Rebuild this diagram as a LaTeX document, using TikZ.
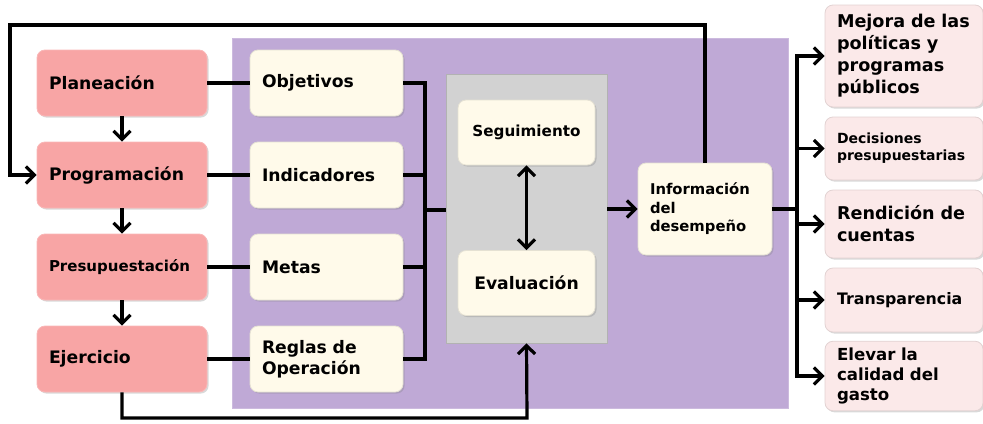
\documentclass[tikz,border=0pt]{standalone}
\usepackage{fontspec}
\setmainfont{DejaVu Sans}
\usetikzlibrary{positioning,shadows,arrows.meta}

\definecolor{rosa}{HTML}{F8A5A5}
\definecolor{rosaclaro}{HTML}{FBE9E9}
\definecolor{crema}{HTML}{FFFAEA}
\definecolor{lila}{HTML}{BFA9D6}
\definecolor{gris}{HTML}{D2D2D2}

\tikzset{
  caja/.style={rectangle, rounded corners=4pt, align=left, inner xsep=6pt,
    font=\fontsize{8.6}{10.5}\selectfont\bfseries,
    drop shadow={opacity=0.3, shadow xshift=0.8pt, shadow yshift=-0.8pt}},
  etapa/.style={caja, fill=rosa, draw=rosa!80!white, minimum width=85pt,
    minimum height=33pt, text width=73pt},
  insumo/.style={caja, fill=crema, draw=crema!90!black, minimum width=76.5pt,
    minimum height=33pt, text width=64.5pt},
  proceso/.style={caja, fill=crema, draw=crema!90!black, minimum width=68.5pt,
    minimum height=32.5pt, align=center},
  uso/.style={caja, fill=rosaclaro, draw=rosaclaro!90!black, minimum width=77pt,
    text width=67pt},
  linea/.style={line width=1.6pt, black},
}

\begin{document}
\begin{tikzpicture}[x=0.5pt, y=-0.5pt, >={Straight Barb[length=4.2pt,width=8.5pt]}]
  \useasboundingbox (0,0) rectangle (983,423);

  % Paneles de fondo
  \node (panel) [rectangle, fill=lila, draw=lila!80!white, minimum width=278pt,
    minimum height=185pt] at (510,223) {};
  \node (bloque) [rectangle, fill=gris, draw=gris!85!black, minimum width=80.5pt,
    minimum height=134.5pt] at (526.5,208.5) {};

  % Etapas
  \node (plan) [etapa] at (122,83) {Planeación};
  \node (prog) [etapa] at (122,175) {Programación};
  \node (pres) [etapa, font=\fontsize{7.5}{9}\selectfont\bfseries] at (122,267) {Presupuestación};
  \node (ejer) [etapa] at (122,359) {Ejercicio};

  % Insumos
  \node (obj) [insumo] at (326.5,83) {Objetivos};
  \node (ind) [insumo] at (326.5,175) {Indicadores};
  \node (met) [insumo] at (326.5,267) {Metas};
  \node (reg) [insumo] at (326.5,359) {Reglas de\\Operación};

  % Seguimiento y evaluacion
  \node (seg) [proceso, font=\fontsize{7.6}{9}\selectfont\bfseries] at (526.5,132.5) {Seguimiento};
  \node (eva) [proceso] at (526.5,283) {Evaluación};

  \node (info) [caja, fill=crema, draw=crema!90!black, minimum width=65pt,
    minimum height=46pt, text width=55pt, font=\fontsize{7.4}{9.2}\selectfont\bfseries]
    at (705,209) {Información\\del\\desempeño};

  % Usos
  \node (r1) [uso, minimum height=51pt, font=\fontsize{8.8}{11}\selectfont\bfseries] at (904,56)
    {Mejora de las\\políticas y\\programas\\públicos};
  \node (r2) [uso, minimum height=31.5pt, font=\fontsize{7}{8.6}\selectfont\bfseries] at (904,148.5)
    {Decisiones\\presupuestarias};
  \node (r3) [uso, minimum height=34pt, font=\fontsize{8.8}{11}\selectfont\bfseries] at (904,224)
    {Rendición de\\cuentas};
  \node (r4) [uso, minimum height=32pt, font=\fontsize{7.9}{10}\selectfont\bfseries] at (904,300)
    {Transparencia};
  \node (r5) [uso, minimum height=34pt, font=\fontsize{8.3}{10}\selectfont\bfseries] at (904,376)
    {Elevar la\\calidad del\\gasto};

  % Puntos de apoyo
  \coordinate (lbus) at (425,210);
  \coordinate (rbus) at (797,209);
  \coordinate (topl) at (10,25);
  \coordinate (bot) at (527,418);

  % Flechas entre etapas
  \draw[linea, ->] (plan) -- (prog);
  \draw[linea, ->] (prog) -- (pres);
  \draw[linea, ->] (pres) -- (ejer);

  % Etapas a insumos
  \draw[linea] (plan) -- (obj);
  \draw[linea] (prog) -- (ind);
  \draw[linea] (pres) -- (met);
  \draw[linea] (ejer) -- (reg);

  % Insumos al bloque
  \foreach \n in {obj,ind,met,reg}
    \draw[linea] (\n.east) -| (lbus);
  \draw[linea] (lbus) -- (bloque.west |- lbus);

  \draw[linea, <->] (seg) -- (eva);
  \draw[linea, ->] (bloque.east |- info.west) -- (info.west);

  % Retroalimentacion
  \draw[linea, ->] (info.north) |- (topl) |- (prog.west);
  \draw[linea, ->] (ejer.south) |- (bot) -- (bloque.south);

  % Usos de la informacion
  \draw[linea] (info.east) -- (rbus);
  \foreach \n in {r1,r2,r3,r4,r5}
    \draw[linea, ->] (rbus) |- (\n.west);
\end{tikzpicture}
\end{document}
